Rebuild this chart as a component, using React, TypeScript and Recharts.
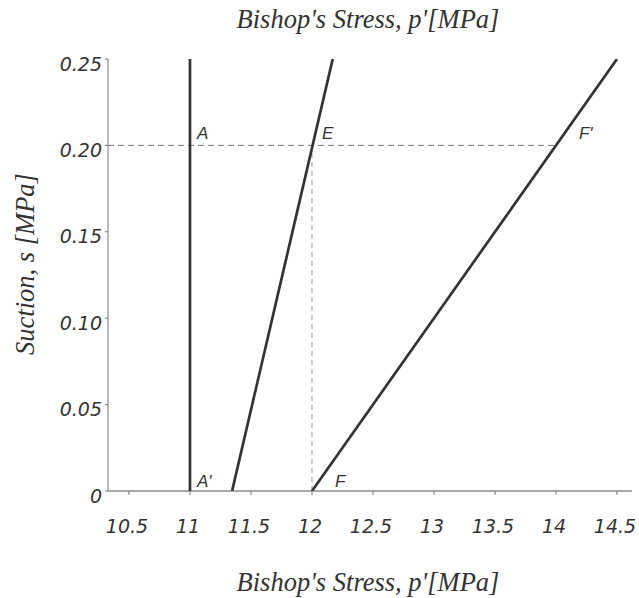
import React from 'react';
import { ComposedChart, Line, XAxis, YAxis, Scatter } from 'recharts';

const xTicks = [10.5, 11, 11.5, 12, 12.5, 13, 13.5, 14, 14.5];
const yTicks = [0, 0.05, 0.1, 0.15, 0.2, 0.25];
const xMin = 10.328;
const xMax = 14.623;
const yMin = 0;
const yMax = 0.25;

const lineA = [{ x: 11, y: 0 }, { x: 11, y: 0.25 }];
const lineE = [{ x: 11.345, y: 0 }, { x: 12.17, y: 0.25 }];
const lineF = [{ x: 12, y: 0 }, { x: 14.5, y: 0.25 }];
const dashH = [{ x: xMin, y: 0.2 }, { x: 14, y: 0.2 }];
const dashV = [{ x: 12, y: 0 }, { x: 12, y: 0.2 }];

const pointLabels = [
  { x: 11, y: 0.2, text: 'A' },
  { x: 12, y: 0.2, text: 'E' },
  { x: 14, y: 0.2, text: "F'" },
  { x: 11, y: 0, text: "A'" },
  { x: 12, y: 0, text: 'F' },
];

const labelOffsets: Record<string, [number, number]> = {
  A: [7, -6],
  E: [10, -6],
  "F'": [23, -6],
  "A'": [7, -4],
  F: [23, -4],
};

const titleX = "Bishop's Stress, p'[MPa]";
const titleY = 'Suction, s [MPa]';

const tickFont = { fontFamily: 'DejaVu Sans', fontStyle: 'italic', fontSize: 19, fill: '#333' };
const titleFont = { fontFamily: 'Liberation Serif', fontStyle: 'italic', fontSize: 26.5, fill: '#333' };

const XTick = (props: any) => {
  const { x, y, payload } = props;
  return (
    <text x={x - 2} y={y} dy={13} textAnchor="middle" {...tickFont}>
      {String(payload.value)}
    </text>
  );
};

const YTick = (props: any) => {
  const { x, y, payload } = props;
  const v = payload.value;
  const s = v === 0 ? '0' : v.toFixed(2);
  return (
    <text x={x} y={y + 5} dy={6.5} textAnchor="end" {...tickFont}>
      {s}
    </text>
  );
};

const LabelShape = (props: any) => {
  const { cx, cy, payload } = props;
  const off = labelOffsets[payload.text] || [0, 0];
  return (
    <text
      x={cx + off[0]}
      y={cy + off[1]}
      fontFamily="Liberation Sans"
      fontStyle="italic"
      fontSize={17}
      fill="#333"
    >
      {payload.text}
    </text>
  );
};

export default function App() {
  return (
    <div style={{ position: 'absolute', left: 0, top: 0, width: 639, height: 598, background: '#fff', overflow: 'hidden' }}>
      <ComposedChart width={639} height={598} margin={{ top: 59, right: 7, left: 0, bottom: 0 }}>
        <XAxis
          type="number"
          dataKey="x"
          domain={[xMin, xMax]}
          ticks={xTicks}
          allowDataOverflow
          height={107}
          tickSize={4}
          tickMargin={25}
          tick={<XTick />}
          axisLine={{ stroke: '#555' }}
          tickLine={{ stroke: '#777' }}
        />
        <XAxis
          xAxisId="top"
          orientation="top"
          type="number"
          domain={[xMin, xMax]}
          height={0}
          tick={false}
          tickLine={false}
          axisLine={{ stroke: '#555' }}
        />
        <YAxis
          type="number"
          dataKey="y"
          domain={[yMin, yMax]}
          ticks={yTicks}
          allowDataOverflow
          width={108}
          tickSize={3}
          tickMargin={3}
          tick={<YTick />}
          axisLine={{ stroke: '#777' }}
          tickLine={{ stroke: '#777' }}
        />
        <YAxis
          yAxisId="right"
          orientation="right"
          type="number"
          domain={[yMin, yMax]}
          width={0}
          tick={false}
          tickLine={false}
          axisLine={{ stroke: '#777' }}
        />
        <Line data={dashH} dataKey="y" type="linear" stroke="#777" strokeWidth={1} strokeDasharray="6 4" dot={false} isAnimationActive={false} />
        <Line data={dashV} dataKey="y" type="linear" stroke="#999" strokeWidth={1} strokeDasharray="5 4" dot={false} isAnimationActive={false} />
        <Line data={lineA} dataKey="y" type="linear" stroke="#333" strokeWidth={2.7} dot={false} isAnimationActive={false} />
        <Line data={lineE} dataKey="y" type="linear" stroke="#333" strokeWidth={2.7} dot={false} isAnimationActive={false} />
        <Line data={lineF} dataKey="y" type="linear" stroke="#333" strokeWidth={2.7} dot={false} isAnimationActive={false} />
        <Scatter data={pointLabels} dataKey="y" shape={<LabelShape />} isAnimationActive={false} />
      </ComposedChart>
      <svg width={639} height={598} style={{ position: 'absolute', left: 0, top: 0, pointerEvents: 'none' }}>
        <text x={368} y={28} textAnchor="middle" {...titleFont}>{titleX}</text>
        <text x={368} y={591} textAnchor="middle" {...titleFont}>{titleX}</text>
        <text x={34} y={264} textAnchor="middle" transform="rotate(-90 34 264)" {...titleFont}>{titleY}</text>
      </svg>
    </div>
  );
}
